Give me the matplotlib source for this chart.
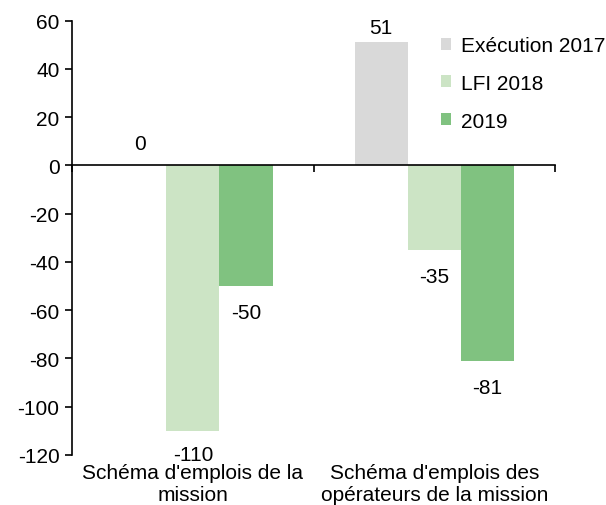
import numpy as np
import matplotlib.pyplot as plt
from matplotlib.transforms import blended_transform_factory

plt.rcParams['font.family'] = ['Liberation Sans', 'DejaVu Sans']
plt.rcParams['axes.unicode_minus'] = False

# Données
categories = ["Schéma d'emplois de la\nmission", "Schéma d'emplois des\nopérateurs de la mission"]
series = ['Exécution 2017', 'LFI 2018', '2019']
execution_2017 = [0, 51]
lfi_2018 = [-110, -35]
annee_2019 = [-50, -81]
colors = ['#d9d9d9', '#cce4c5', '#80c280']

values = [execution_2017, lfi_2018, annee_2019]

W, H = 606, 506
fig = plt.figure(figsize=(W / 100, H / 100), dpi=100)
ax = fig.add_axes([0.119, 0.099, 0.797, 0.858])

x = np.arange(len(categories))
width = 0.22
offsets = [-width, 0, width]
fs = 15
ymin, ymax = -120, 60
ax.set_xlim(-0.5, 1.5)
ax.set_ylim(ymin, ymax)

# pixels par unité (pour garder l'étiquette dans la figure)
ppu = ax.get_position().height * H / (ymax - ymin)
top_margin = (1 - ax.get_position().y1) * H

for vals, off, col, name in zip(values, offsets, colors, series):
    bars = ax.bar(x + off, vals, width, color=col, label=name, zorder=2)
    for b, v in zip(bars, vals):
        cx = b.get_x() + b.get_width() / 2
        if v >= 0:
            space = (ymax - v) * ppu + top_margin - 16 - 18
            pad = min(16, max(space, 3)) * 0.72
            ax.annotate(f'{v}', (cx, v), xytext=(0, pad), textcoords='offset points',
                        ha='center', va='baseline', fontsize=fs)
        else:
            pad = min(17.4, (v - ymin) * ppu - 10) * 0.72
            ax.annotate(f'{v}', (cx, v), xytext=(0, -pad), textcoords='offset points',
                        ha='center', va='top', fontsize=fs)

ax.set_yticks(np.arange(ymin, ymax + 1, 20))
ax.tick_params(axis='y', labelsize=fs, length=5, width=1.2, direction='out', pad=4)

# axe horizontal sur le zéro
ax.spines['top'].set_visible(False)
ax.spines['right'].set_visible(False)
ax.spines['bottom'].set_position(('data', 0))
ax.spines['left'].set_linewidth(1.2)
ax.spines['bottom'].set_linewidth(1.2)
ax.set_xticks(x)
ax.set_xticks([-0.5, 0.5, 1.5], minor=True)
ax.tick_params(axis='x', which='major', length=0, labelbottom=False)
ax.tick_params(axis='x', which='minor', length=5, width=1.2, direction='out')

trans = blended_transform_factory(ax.transData, ax.transAxes)
for xi, cat in zip(x, categories):
    ax.text(xi, -0.018, cat, transform=trans, ha='center', va='top',
            fontsize=fs, linespacing=1.2)

ax.legend(loc='upper left', bbox_to_anchor=(441 / W, 1 - 37 / H),
          bbox_transform=fig.transFigure, frameon=False, fontsize=fs,
          borderpad=0, borderaxespad=0,
          handlelength=0.5, handleheight=0.5, handletextpad=0.45, labelspacing=0.9)

plt.savefig('out.png', dpi=100)
